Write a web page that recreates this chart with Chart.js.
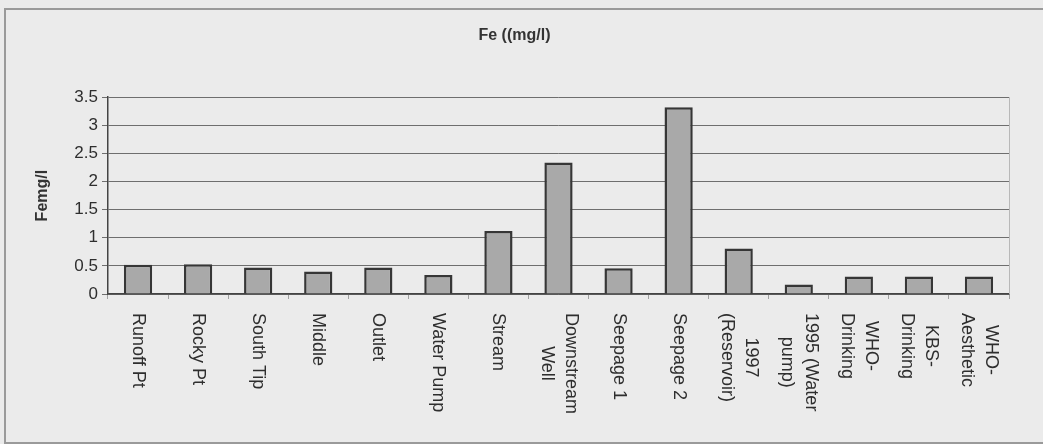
<!DOCTYPE html>
<html>
<head>
<meta charset="utf-8">
<script src="https://cdn.jsdelivr.net/npm/chart.js@4/dist/chart.umd.min.js"></script>
<style>
  html, body { margin: 0; padding: 0; background: #ebebeb; }
  #wrap { width: 1043px; height: 444px; }
</style>
</head>
<body>
<div id="wrap"><canvas id="feChart" width="1043" height="444"></canvas></div>
<script>
// sites sampled, one label line per array entry
const sites = [
    ['Runoff Pt'], ['Rocky Pt'], ['South Tip'], ['Middle'], ['Outlet'],
    ['Water Pump'], ['Stream'], ['Downstream', 'Well'], ['Seepage 1'], ['Seepage 2'],
    ['1997', '(Reservoir)'], ['1995 (Water', 'pump)'], ['WHO-', 'Drinking'],
    ['KBS-', 'Drinking'], ['WHO-', 'Aesthetic']
];
const feValues = [0.52, 0.53, 0.47, 0.40, 0.47, 0.34, 1.12, 2.34, 0.46, 3.32, 0.81, 0.17, 0.31, 0.31, 0.31];
const yTicks = [0, 0.5, 1, 1.5, 2, 2.5, 3, 3.5];

const chartTitle = 'Fe ((mg/l)';
const yTitle = 'Femg/l';
const fontFamily = '"Liberation Sans", Arial, sans-serif';

// frame round the picture + background
const framePlugin = {
    id: 'frame',
    beforeDraw(chart) {
        const ctx = chart.ctx;
        ctx.save();
        ctx.fillStyle = '#ebebeb';
        ctx.fillRect(0, 0, chart.width, chart.height);
        ctx.strokeStyle = '#9a9a9a';
        ctx.lineWidth = 2;
        ctx.strokeRect(5, 9, chart.width - 4, chart.height - 10);
        ctx.restore();
    },
    afterDatasetsDraw(chart) {
        // faint right edge of plot area
        const a = chart.chartArea;
        const ctx = chart.ctx;
        ctx.save();
        ctx.strokeStyle = '#b8b8b8';
        ctx.lineWidth = 1;
        ctx.beginPath();
        ctx.moveTo(a.right + 0.5, a.top);
        ctx.lineTo(a.right + 0.5, a.bottom);
        ctx.stroke();
        ctx.restore();
    }
};

// x labels read top to bottom (turned clockwise), so drawn here
const siteLabelsPlugin = {
    id: 'siteLabels',
    afterDraw(chart) {
        const ctx = chart.ctx;
        const xs = chart.scales.x;
        const top = chart.chartArea.bottom + 19;
        const lh = 24;
        ctx.save();
        ctx.font = '18px ' + fontFamily;
        ctx.fillStyle = '#2e2e2e';
        ctx.textBaseline = 'middle';
        ctx.textAlign = 'center';
        sites.forEach((lines, i) => {
            const x = xs.getPixelForValue(i);
            const maxW = Math.max(...lines.map(l => ctx.measureText(l).width));
            ctx.save();
            ctx.translate(x, top);
            ctx.rotate(Math.PI / 2);
            lines.forEach((line, k) => {
                const off = (k - (lines.length - 1) / 2) * lh;
                ctx.fillText(line, maxW / 2, off);
            });
            ctx.restore();
        });
        ctx.restore();
    }
};

new Chart(document.getElementById('feChart').getContext('2d'), {
    type: 'bar',
    data: {
        labels: sites.map(s => s.join(' ')),
        datasets: [{
            data: feValues,
            backgroundColor: '#a9a9a9',
            borderColor: '#363636',
            borderWidth: 2.5,
            barPercentage: 0.47,
            categoryPercentage: 1
        }]
    },
    options: {
        responsive: false,
        animation: false,
        layout: { padding: { left: 20, right: 34, top: 0, bottom: 0 } },
        plugins: {
            legend: { display: false },
            tooltip: { enabled: false },
            title: {
                display: true,
                text: chartTitle,
                color: '#333',
                font: { family: fontFamily, size: 16, weight: 'bold' },
                padding: { top: 26, bottom: 52 }
            }
        },
        scales: {
            x: {
                ticks: { display: false },
                grid: { display: true, drawOnChartArea: false, offset: true, tickLength: 5, color: '#a0a0a0' },
                border: { display: true, color: '#444', width: 1.5 },
                afterFit(scale) { scale.height = 150; }
            },
            y: {
                min: 0,
                max: 3.5,
                afterBuildTicks(scale) { scale.ticks = yTicks.map(v => ({ value: v })); },
                ticks: {
                    color: '#2e2e2e',
                    padding: 4,
                    font: { family: fontFamily, size: 17 },
                    callback: v => String(v)
                },
                grid: { color: '#6e6e6e', lineWidth: 1, tickLength: 6 },
                border: { display: true, color: '#444', width: 1.5 },
                title: {
                    display: true,
                    text: yTitle,
                    color: '#333',
                    font: { family: fontFamily, size: 16, weight: 'bold' },
                    padding: { top: 13, bottom: 0 }
                },
                afterFit(scale) { scale.width = 88; }
            }
        }
    },
    plugins: [framePlugin, siteLabelsPlugin]
});
</script>
</body>
</html>
